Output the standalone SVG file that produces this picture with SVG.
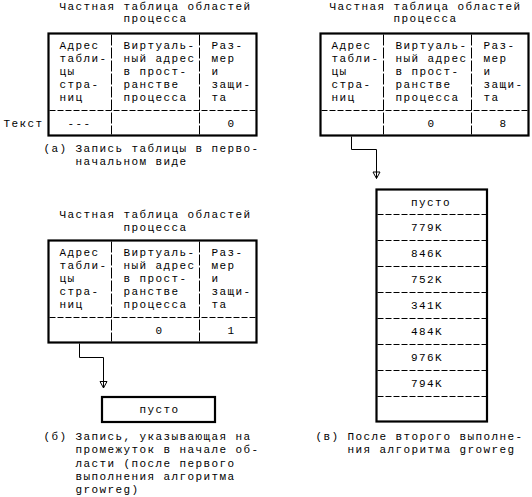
<svg xmlns="http://www.w3.org/2000/svg" width="532" height="497" viewBox="0 0 532 497">
<style>
  text { font-family: "Liberation Mono", "DejaVu Sans Mono", monospace; font-size: 11px; letter-spacing: 1.4px; fill: #000; }
  .border { fill: none; stroke: #000; stroke-width: 2.2; }
  .hd { stroke: #000; stroke-width: 1; stroke-dasharray: 6 2; fill: none; }
  .vd { stroke: #000; stroke-width: 1; stroke-dasharray: 11 2; fill: none; }
  .conn { fill: none; stroke: #000; stroke-width: 1; }
  .ah { fill: none; stroke: #000; stroke-width: 1; }
</style>
<defs>
  <marker id="arrow" markerUnits="userSpaceOnUse" markerWidth="10" markerHeight="10" viewBox="0 0 10 10" refX="5" refY="9" orient="0">
    <path class="ah" d="M1.5,2.5 H8.5 M1.5,2.5 L5,9 L8.5,2.5"/>
  </marker>
</defs>
<rect width="532" height="497" fill="#fff"/>

<!-- (a) table -->
<g id="table-a">
  <text x="59.5" y="9.5">Частная таблица областей</text>
  <text x="123.5" y="22">процесса</text>
  <rect class="border" x="48.5" y="33.5" width="208" height="102"/>
  <line class="vd" x1="111.5" y1="34.5" x2="111.5" y2="134.5"/>
  <line class="vd" x1="199.5" y1="34.5" x2="199.5" y2="134.5"/>
  <line class="hd" x1="49.5" y1="110.5" x2="255.5" y2="110.5"/>
  <text x="59.5" y="49">Адрес</text>
  <text x="59.5" y="62">табли-</text>
  <text x="59.5" y="75">цы</text>
  <text x="59.5" y="88">стра-</text>
  <text x="59.5" y="101">ниц</text>
  <text x="123.5" y="49">Виртуаль-</text>
  <text x="123.5" y="62">ный адрес</text>
  <text x="123.5" y="75">в прост-</text>
  <text x="123.5" y="88">ранстве</text>
  <text x="123.5" y="101">процесса</text>
  <text x="211.5" y="49">Раз-</text>
  <text x="211.5" y="62">мер</text>
  <text x="211.5" y="75">и</text>
  <text x="211.5" y="88">защи-</text>
  <text x="211.5" y="101">та</text>
  <text x="3.5" y="127">Текст</text>
  <text x="67.5" y="127">---</text>
  <text x="227.5" y="127">0</text>
</g>
<g id="caption-a">
  <text x="43.5" y="151.5">(а) Запись таблицы в перво-</text>
  <text x="75.5" y="164.5">начальном виде</text>
</g>

<!-- (b) table -->
<g id="table-b">
  <text x="59.5" y="218">Частная таблица областей</text>
  <text x="123.5" y="230.5">процесса</text>
  <rect class="border" x="48.5" y="240.5" width="208" height="102"/>
  <line class="vd" x1="111.5" y1="241.5" x2="111.5" y2="341.5"/>
  <line class="vd" x1="199.5" y1="241.5" x2="199.5" y2="341.5"/>
  <line class="hd" x1="49.5" y1="317.5" x2="255.5" y2="317.5"/>
  <text x="59.5" y="256">Адрес</text>
  <text x="59.5" y="269">табли-</text>
  <text x="59.5" y="282">цы</text>
  <text x="59.5" y="295">стра-</text>
  <text x="59.5" y="308">ниц</text>
  <text x="123.5" y="256">Виртуаль-</text>
  <text x="123.5" y="269">ный адрес</text>
  <text x="123.5" y="282">в прост-</text>
  <text x="123.5" y="295">ранстве</text>
  <text x="123.5" y="308">процесса</text>
  <text x="211.5" y="256">Раз-</text>
  <text x="211.5" y="269">мер</text>
  <text x="211.5" y="282">и</text>
  <text x="211.5" y="295">защи-</text>
  <text x="211.5" y="308">та</text>
  <text x="155.5" y="334">0</text>
  <text x="227.5" y="334">1</text>
</g>
<g id="box-b">
  <rect class="border" x="102" y="397" width="113" height="25"/>
  <text x="139.5" y="413">пусто</text>
</g>
<g id="caption-b">
  <text x="43.5" y="440">(б) Запись, указывающая на</text>
  <text x="75.5" y="453.3">промежуток в начале об-</text>
  <text x="75.5" y="466.6">ласти (после первого</text>
  <text x="75.5" y="479.9">выполнения алгоритма</text>
  <text x="75.5" y="493.2">growreg)</text>
</g>

<!-- (c) table -->
<g id="table-c">
  <text x="329.5" y="9.5">Частная таблица областей</text>
  <text x="393.5" y="22">процесса</text>
  <rect class="border" x="320.5" y="33.5" width="208" height="102"/>
  <line class="vd" x1="383.5" y1="34.5" x2="383.5" y2="134.5"/>
  <line class="vd" x1="471.5" y1="34.5" x2="471.5" y2="134.5"/>
  <line class="hd" x1="321.5" y1="110.5" x2="527.5" y2="110.5"/>
  <text x="331.5" y="49">Адрес</text>
  <text x="331.5" y="62">табли-</text>
  <text x="331.5" y="75">цы</text>
  <text x="331.5" y="88">стра-</text>
  <text x="331.5" y="101">ниц</text>
  <text x="395.5" y="49">Виртуаль-</text>
  <text x="395.5" y="62">ный адрес</text>
  <text x="395.5" y="75">в прост-</text>
  <text x="395.5" y="88">ранстве</text>
  <text x="395.5" y="101">процесса</text>
  <text x="483.5" y="49">Раз-</text>
  <text x="483.5" y="62">мер</text>
  <text x="483.5" y="75">и</text>
  <text x="483.5" y="88">защи-</text>
  <text x="483.5" y="101">та</text>
  <text x="427.5" y="127">0</text>
  <text x="499.5" y="127">8</text>
</g>
<g id="stack-c">
  <rect class="border" x="376.5" y="189.5" width="110.5" height="232"/>
  <line class="hd" x1="377.5" y1="214.5" x2="486" y2="214.5"/>
  <line class="hd" x1="377.5" y1="240.5" x2="486" y2="240.5"/>
  <line class="hd" x1="377.5" y1="266.5" x2="486" y2="266.5"/>
  <line class="hd" x1="377.5" y1="292.5" x2="486" y2="292.5"/>
  <line class="hd" x1="377.5" y1="318.5" x2="486" y2="318.5"/>
  <line class="hd" x1="377.5" y1="344.5" x2="486" y2="344.5"/>
  <line class="hd" x1="377.5" y1="370.5" x2="486" y2="370.5"/>
  <line class="hd" x1="377.5" y1="396.5" x2="486" y2="396.5"/>
  <text x="411" y="205.5">пусто</text>
  <text x="411" y="231">779K</text>
  <text x="411" y="257">846K</text>
  <text x="411" y="283">752K</text>
  <text x="411" y="309">341K</text>
  <text x="411" y="335">484K</text>
  <text x="411" y="361">976K</text>
  <text x="411" y="387">794K</text>
</g>
<g id="caption-c">
  <text x="315.5" y="440">(в) После второго выполне-</text>
  <text x="347.5" y="452.5">ния алгоритма growreg</text>
</g>

<g id="connectors">
  <path class="conn" d="M79.5,343.5 V357.5 H103.5 V388" marker-end="url(#arrow)"/>
  <path class="conn" d="M351.5,136.5 V149.5 H376.5 V178.5" marker-end="url(#arrow)"/>
</g>
</svg>
